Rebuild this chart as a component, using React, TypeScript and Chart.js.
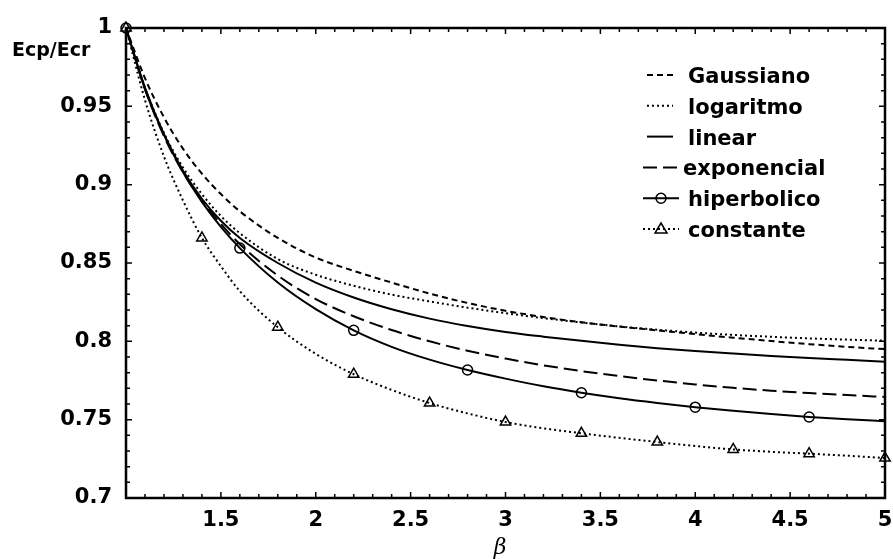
import React, { useEffect, useRef } from "react";
import { Chart, registerables } from "chart.js";

Chart.register(...registerables);

const betaValues = [1, 1.1, 1.2, 1.3, 1.4, 1.5, 1.6, 1.8, 2.0, 2.2, 2.4, 2.6, 2.8, 3.0, 3.2, 3.4, 3.6, 3.8, 4.0, 4.2, 4.4, 4.6, 4.8, 5.0];

const gaussiano = [1, 0.968, 0.943, 0.923, 0.907, 0.894, 0.883, 0.866, 0.8535, 0.845, 0.8375, 0.8305, 0.8245, 0.8195, 0.8155, 0.8122, 0.8094, 0.807, 0.8046, 0.8023, 0.8002, 0.7982, 0.7965, 0.795];
const logaritmo = [1, 0.962, 0.933, 0.911, 0.894, 0.88, 0.869, 0.8525, 0.8425, 0.8355, 0.8298, 0.8255, 0.8215, 0.818, 0.8148, 0.812, 0.8095, 0.8074, 0.8056, 0.8041, 0.8029, 0.8019, 0.8011, 0.8004];
const linear = [1, 0.961, 0.932, 0.909, 0.891, 0.877, 0.866, 0.85, 0.8375, 0.828, 0.8205, 0.8145, 0.8098, 0.806, 0.803, 0.8003, 0.7978, 0.7956, 0.7938, 0.7922, 0.7907, 0.7894, 0.7882, 0.787];
const exponencial = [1, 0.961, 0.931, 0.908, 0.89, 0.875, 0.862, 0.842, 0.827, 0.816, 0.8072, 0.8, 0.794, 0.789, 0.7847, 0.781, 0.7778, 0.775, 0.7725, 0.7703, 0.7685, 0.767, 0.7657, 0.7645];
const hiperbolico = [1, 0.962, 0.932, 0.908, 0.889, 0.873, 0.8595, 0.8375, 0.8205, 0.807, 0.7965, 0.7883, 0.7817, 0.7762, 0.7713, 0.7672, 0.7637, 0.7607, 0.758, 0.7557, 0.7536, 0.7517, 0.7502, 0.749];
const constante = [1, 0.954, 0.918, 0.89, 0.866, 0.848, 0.832, 0.809, 0.792, 0.779, 0.769, 0.7606, 0.754, 0.7485, 0.7445, 0.7413, 0.7384, 0.7357, 0.7332, 0.731, 0.7295, 0.7283, 0.727, 0.7255];

const hiperbolicoMarkers = [1, 1.6, 2.2, 2.8, 3.4, 4.0, 4.6];
const constanteMarkers = [1, 1.4, 1.8, 2.2, 2.6, 3.0, 3.4, 3.8, 4.2, 4.6, 5.0];

const xTickLabels = ["1.5", "2", "2.5", "3", "3.5", "4", "4.5", "5"];
const legendLabels = ["Gaussiano", "logaritmo", "linear", "exponencial", "hiperbolico", "constante"];
const yAxisLabel = "Ecp/Ecr";
const xAxisLabel = "β";

const FONT = "'DejaVu Sans', 'Liberation Sans', Arial, sans-serif";

const toPoints = (ys: number[]) => betaValues.map((b, i) => ({ x: b, y: ys[i] }));

const isMarker = (list: number[], r: number) => (ctx: any) => {
  const b = betaValues[ctx.dataIndex];
  return list.some((m) => Math.abs(m - b) < 1e-9) ? r : 0;
};

const decorPlugin = {
  id: "decor",
  afterDatasetsDraw(chart: any) {
    const { ctx, chartArea } = chart;
    const { left, right, top, bottom } = chartArea;
    const xs = chart.scales.x;
    const ys = chart.scales.y;
    ctx.save();
    ctx.strokeStyle = "#000";
    ctx.setLineDash([]);
    ctx.lineWidth = 2.5;
    ctx.strokeRect(left, top, right - left, bottom - top);
    ctx.lineWidth = 1.5;
    for (let i = 1; i < 40; i++) {
      const v = 1 + i * 0.1;
      const px = xs.getPixelForValue(v);
      const len = i % 5 === 0 ? 6 : 4;
      ctx.beginPath();
      ctx.moveTo(px, bottom);
      ctx.lineTo(px, bottom - len);
      ctx.moveTo(px, top);
      ctx.lineTo(px, top + len);
      ctx.stroke();
    }
    for (let i = 1; i < 30; i++) {
      const v = 0.7 + i * 0.01;
      const py = ys.getPixelForValue(v);
      const len = i % 5 === 0 ? 6 : 4;
      ctx.beginPath();
      ctx.moveTo(left, py);
      ctx.lineTo(left + len, py);
      ctx.moveTo(right, py);
      ctx.lineTo(right - len, py);
      ctx.stroke();
    }
    ctx.restore();
  },
  afterDraw(chart: any) {
    const { ctx } = chart;
    ctx.save();
    ctx.fillStyle = "#000";
    ctx.strokeStyle = "#000";
    ctx.font = `bold 19px ${FONT}`;
    ctx.textAlign = "left";
    ctx.textBaseline = "alphabetic";
    ctx.fillText(yAxisLabel, 12, 56);
    ctx.font = `italic 22px 'DejaVu Serif', serif`;
    ctx.textAlign = "center";
    ctx.fillText(xAxisLabel, 500, 554);

    const styles = [
      { dash: [6, 4], marker: "" },
      { dash: [2, 3], marker: "" },
      { dash: [], marker: "" },
      { dash: [14, 6], marker: "" },
      { dash: [], marker: "circle" },
      { dash: [2, 3], marker: "triangle" },
    ];
    ctx.font = `bold 21px ${FONT}`;
    ctx.textAlign = "left";
    legendLabels.forEach((label, i) => {
      const base = 83 + i * 30.8;
      const ly = base - 8;
      const st = styles[i];
      const x0 = i >= 3 ? 643 : 647;
      const x1 = i >= 3 ? 679 : 673;
      ctx.lineWidth = 2;
      ctx.setLineDash(st.dash);
      ctx.beginPath();
      ctx.moveTo(x0, ly);
      ctx.lineTo(x1, ly);
      ctx.stroke();
      ctx.setLineDash([]);
      const cx = (x0 + x1) / 2;
      ctx.lineWidth = 1.5;
      if (st.marker === "circle") {
        ctx.beginPath();
        ctx.arc(cx, ly, 5, 0, Math.PI * 2);
        ctx.stroke();
      } else if (st.marker === "triangle") {
        ctx.beginPath();
        ctx.moveTo(cx, ly - 6);
        ctx.lineTo(cx + 6, ly + 4);
        ctx.lineTo(cx - 6, ly + 4);
        ctx.closePath();
        ctx.stroke();
      }
      ctx.fillText(label, i === 3 ? 683 : 688, base);
    });
    ctx.restore();
  },
};

export default function App() {
  const ref = useRef<HTMLCanvasElement | null>(null);
  useEffect(() => {
    if (!ref.current) return;
    const common = {
      borderColor: "#000",
      borderWidth: 2,
      pointRadius: 0,
      pointHoverRadius: 0,
      fill: false,
      cubicInterpolationMode: "monotone" as const,
      clip: false as any,
    };
    const chart = new Chart(ref.current, {
      type: "line",
      data: {
        datasets: [
          { ...common, label: legendLabels[0], data: toPoints(gaussiano), borderDash: [6, 4] },
          { ...common, label: legendLabels[1], data: toPoints(logaritmo), borderDash: [2, 3] },
          { ...common, label: legendLabels[2], data: toPoints(linear) },
          { ...common, label: legendLabels[3], data: toPoints(exponencial), borderDash: [14, 6] },
          {
            ...common,
            label: legendLabels[4],
            data: toPoints(hiperbolico),
            pointRadius: isMarker(hiperbolicoMarkers, 5),
            pointStyle: "circle",
            pointBackgroundColor: "rgba(0,0,0,0)",
            pointBorderColor: "#000",
            pointBorderWidth: 1.5,
          },
          {
            ...common,
            label: legendLabels[5],
            data: toPoints(constante),
            borderDash: [2, 3],
            pointRadius: isMarker(constanteMarkers, 6),
            pointStyle: "triangle",
            pointBackgroundColor: "rgba(0,0,0,0)",
            pointBorderColor: "#000",
            pointBorderWidth: 1.5,
          },
        ],
      },
      options: {
        animation: false,
        responsive: true,
        maintainAspectRatio: false,
        layout: { padding: { top: 28, right: 0, left: 0, bottom: 0 } },
        plugins: { legend: { display: false }, tooltip: { enabled: false } },
        scales: {
          x: {
            type: "linear",
            min: 1,
            max: 5,
            afterFit: (s: any) => {
              s.height = 61;
              s.paddingLeft = 0;
              s.paddingRight = 8;
            },
            grid: { display: false, drawTicks: false },
            border: { display: false },
            ticks: {
              stepSize: 0.5,
              padding: 10,
              color: "#000",
              font: { family: FONT, size: 21, weight: "bold" },
              maxRotation: 0,
              autoSkip: false,
              callback: (v: any) => {
                const s = String(Number(v));
                return xTickLabels.includes(s) ? s : "";
              },
            },
          },
          y: {
            type: "linear",
            min: 0.7,
            max: 1,
            afterFit: (s: any) => {
              s.width = 126;
            },
            grid: { display: false, drawTicks: false },
            border: { display: false },
            ticks: {
              stepSize: 0.05,
              padding: 14,
              color: "#000",
              font: { family: FONT, size: 21, weight: "bold" },
              autoSkip: false,
              callback: (v: any) => String(Math.round(Number(v) * 100) / 100),
            },
          },
        },
      },
      plugins: [decorPlugin],
    });
    return () => chart.destroy();
  }, []);
  return (
    <div style={{ position: "absolute", left: 0, top: 0, width: 893, height: 559, background: "#fff" }}>
      <canvas ref={ref} />
    </div>
  );
}
